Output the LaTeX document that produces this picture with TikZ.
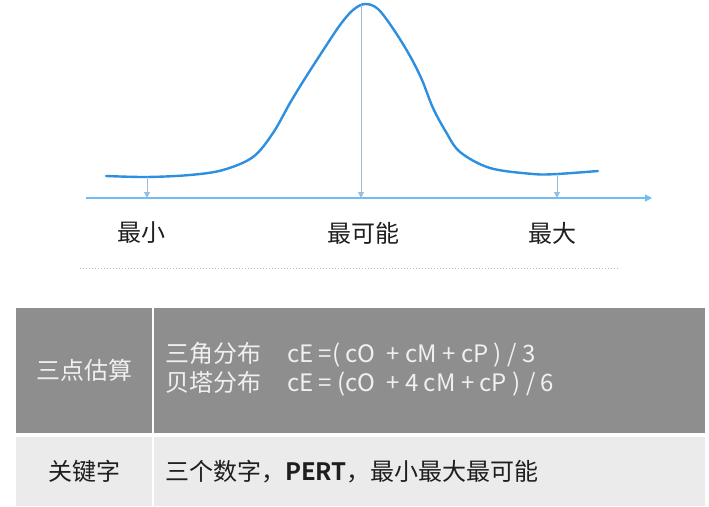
\documentclass[tikz,border=0pt]{standalone}
\usepackage{fontspec}
\setmainfont{Noto Sans CJK SC}[BoldFont={Noto Sans CJK SC Bold}]
\usepackage{tikz}
\usetikzlibrary{arrows.meta, positioning, calc}
\definecolor{curveblue}{RGB}{45, 143, 224}
\definecolor{axisblue}{RGB}{110, 190, 245}
\definecolor{markblue}{RGB}{150, 190, 225}
\definecolor{headgray}{RGB}{142, 142, 142}
\definecolor{rowgray}{RGB}{235, 235, 235}
\definecolor{txtdark}{RGB}{30, 30, 30}
\tikzset{
  lbl/.style={font=\fontsize{24}{28}\selectfont, text=txtdark, inner sep=0pt},
  cell/.style={anchor=north west, inner sep=0pt, minimum width=136pt},
  headcell/.style={cell, fill=headgray, minimum height=125pt},
  keycell/.style={cell, fill=rowgray, minimum height=69pt},
  celltext/.style={anchor=west, inner sep=0pt, align=left, font=\fontsize{24}{29}\selectfont},
  markarrow/.style={-{Triangle[length=6pt,width=6pt]}, markblue, line width=0.9pt},
  axisarrow/.style={-{Triangle[length=7pt,width=7pt]}, axisblue, line width=1.2pt},
}

\begin{document}
\begin{tikzpicture}[x=1pt, y=-1pt]
  \useasboundingbox (0,0) rectangle (709,506);
  % curve
  \draw[curveblue, line width=2.4pt, line cap=round] plot[smooth, tension=0.55] coordinates {
    (106,176) (147,177) (190,175) (223,170) (253,157) (273,133) (290,103)
    (304,80) (322,52) (340,25) (353,10) (365,4) (378,9) (394,30) (410,56)
    (422,80) (433,108) (446,132) (460,152) (490,168) (533,174) (557,174) (598,171)};
  \coordinate (pmin) at (147,177);
  \coordinate (pmode) at (361,5);
  \coordinate (pmax) at (557,174);
  % axis
  \coordinate (ax0) at (86,198);
  \coordinate (ax1) at (652,198);
  \draw[axisarrow] (ax0) -- (ax1);
  \draw[markarrow] (pmin) -- (pmin |- ax0);
  \draw[markarrow] (pmode) -- (pmode |- ax0);
  \draw[markarrow] (pmax) -- (pmax |- ax0);
  \node[lbl] (lmin) at (141,233) {最小};
  \node[lbl] (lmode) at (363,233) {最可能};
  \node[lbl] (lmax) at (552,233) {最大};
  % separator
  \coordinate (sep0) at (80,268);
  \coordinate (sep1) at (620,268);
  \draw[gray!55, dotted, line width=1pt] (sep0) -- (sep1);
  % table
  \node[headcell] (h1) at (16,308) {};
  \node[headcell, minimum width=551pt] (h2) at (154,308) {};
  \node[keycell] (k1) at (16,437) {};
  \node[keycell, minimum width=551pt] (k2) at (154,437) {};
  \node[font=\fontsize{24}{28}\selectfont, text=white!94!black] at (h1.center) {三点估算};
  \node[celltext, text=white!94!black] at ($(h2.west)+(11pt,1pt)$)
    {三角分布\hspace{26pt}cE =( cO \ + cM + cP ) / 3\\贝塔分布\hspace{26pt}cE = (cO \ + 4 cM + cP ) / 6};
  \node[font=\fontsize{24}{28}\selectfont, text=txtdark] at (k1.center) {关键字};
  \node[celltext, text=txtdark] at ($(k2.west)+(11pt,0)$) {三个数字，\textbf{PERT}，最小最大最可能};
\end{tikzpicture}
\end{document}
